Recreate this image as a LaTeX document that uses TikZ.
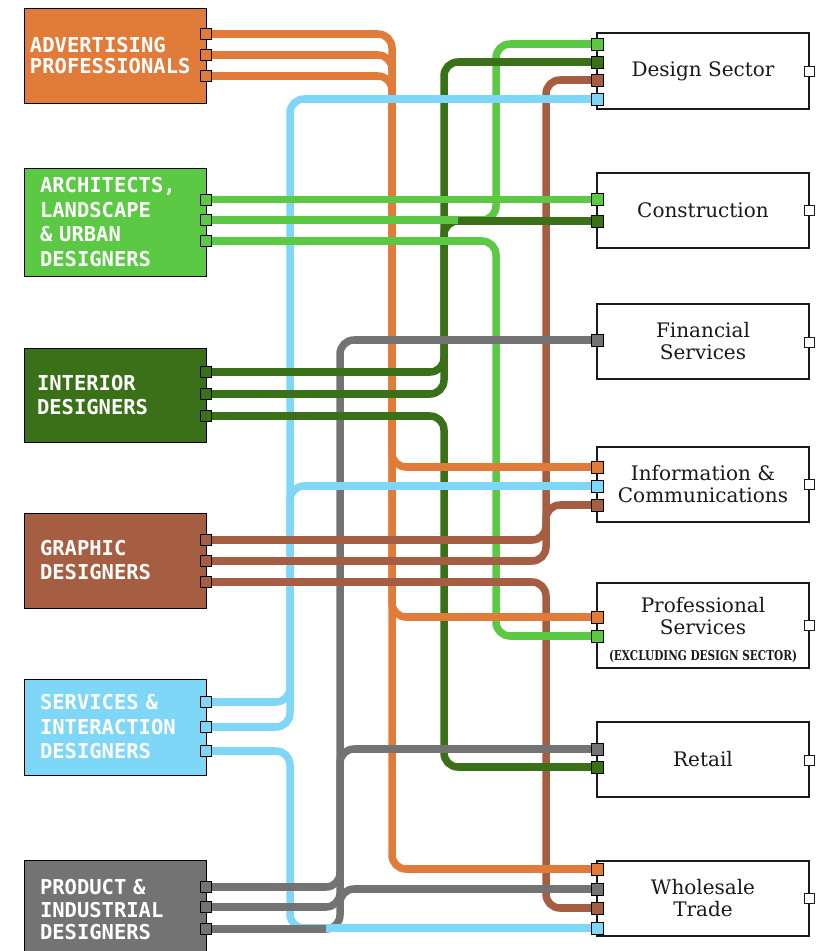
\documentclass[tikz,border=0pt]{standalone}
\usepackage{fontspec}
\setmainfont{DejaVu Serif}
\newfontfamily\monofont{DejaVu Sans Mono}[BoldFont={DejaVu Sans Mono Bold}]
\usetikzlibrary{calc}
\pgfdeclarelayer{wiresbelow}
\pgfdeclarelayer{wiresabove}
\pgfsetlayers{wiresbelow,wiresabove,main}
\definecolor{cor}{HTML}{E07B39}
\definecolor{clg}{HTML}{5BC944}
\definecolor{cdg}{HTML}{3A7017}
\definecolor{cbr}{HTML}{A65E42}
\definecolor{clb}{HTML}{7ED7F7}
\definecolor{cgy}{HTML}{737373}
\definecolor{ink}{HTML}{1A1A1A}
\tikzset{
  wire/.style={line width=7.5pt, rounded corners=14pt},
  srcbox/.style={draw=black, line width=0.9pt, minimum width=182pt, inner ysep=0pt, align=left, text=white},
  dstbox/.style={draw=ink, line width=1.1pt, fill=white, minimum width=212pt, minimum height=75pt, align=center, text=ink, font=\fontsize{20}{22}\selectfont},
  lport/.style={draw=black, line width=0.8pt, minimum size=11pt, inner sep=0pt},
  rport/.style={draw=black, line width=0.8pt, minimum size=12pt, inner sep=0pt},
  oport/.style={draw=ink, line width=0.8pt, fill=white, minimum size=10pt, inner sep=0pt},
}
\newcommand\srcfont[1]{\monofont\bfseries\fontsize{20.5}{#1}\selectfont}
\newcommand\linkvia[4]{%
  \begin{pgfonlayer}{wiresbelow}
    \draw[wire,#1] (#2.center) -| (#3 |- #4.center) -- (#4.center);
  \end{pgfonlayer}
  \begin{pgfonlayer}{wiresabove}
    \draw[wire,#1] (#2.center) -- ($(#3 |- #2.center)+(-14,0)$);
    \draw[wire,#1] ($(#3 |- #4.center)+(14,0)$) -- (#4.center);
  \end{pgfonlayer}}
\begin{document}
\begin{tikzpicture}[x=1pt,y=-1pt]
\useasboundingbox (0,0) rectangle (815,951);
\clip (0,0) rectangle (815,951);
% vertical trunks
\coordinate (vlb) at (290,0);
\coordinate (vgy) at (340,0);
\coordinate (vor) at (392,0);
\coordinate (vdg) at (444,0);
\coordinate (vlg) at (496,0);
\coordinate (vbr) at (546,0);
% source boxes
\node[srcbox, fill=cor, minimum height=95pt, text width=170pt, inner xsep=6pt,
  font=\srcfont{21.5}] (adv) at (115,55.5) {ADVERTISING\\PROFESSIONALS};
\node[srcbox, fill=clg, minimum height=108pt, text width=150pt, inner xsep=16pt,
  font=\srcfont{24.7}] (arc) at (115,222) {ARCHITECTS,\\LANDSCAPE\\\& URBAN\\DESIGNERS};
\node[srcbox, fill=cdg, minimum height=94pt, text width=156pt, inner xsep=13pt,
  font=\srcfont{24}] (int) at (115,395) {INTERIOR\\DESIGNERS};
\node[srcbox, fill=cbr, minimum height=95pt, text width=150pt, inner xsep=16pt,
  font=\srcfont{24}] (gra) at (115,560.5) {GRAPHIC\\DESIGNERS};
\node[srcbox, fill=clb, minimum height=96pt, text width=150pt, inner xsep=16pt,
  font=\srcfont{24.5}] (ser) at (115,727) {SERVICES \&\\INTERACTION\\DESIGNERS};
\node[srcbox, fill=cgy, minimum height=100pt, text width=150pt, inner xsep=16pt,
  font=\srcfont{22.5}] (pro) at (115,910) {PRODUCT \&\\INDUSTRIAL\\DESIGNERS};
% destination boxes
\node[dstbox, minimum height=76pt] (des) at (703,71) {Design Sector};
\node[dstbox] (con) at (703,210.5) {Construction};
\node[dstbox] (fin) at (703,341.5) {Financial\\Services};
\node[dstbox] (inf) at (703,484.5) {Information \&\\Communications};
\node[dstbox, minimum height=85pt] (prs) at (703,625.5) {\rule{0pt}{24pt}Professional\\Services\\[4pt]\resizebox{188pt}{\height}{\bfseries\fontsize{13.5}{14}\selectfont (EXCLUDING DESIGN SECTOR)}};
\node[dstbox] (ret) at (703,759.5) {Retail};
\node[dstbox] (who) at (703,898.5) {Wholesale\\Trade};
% output ports
\node[oport] (desout) at (809,71) {};
\node[oport] (conout) at (809,210) {};
\node[oport] (finout) at (809,342) {};
\node[oport] (infout) at (809,484) {};
\node[oport] (prsout) at (809,625) {};
\node[oport] (retout) at (809,760) {};
\node[oport] (whoout) at (809,898) {};
% left ports
\node[lport, fill=cor] (a1) at (206,34) {};
\node[lport, fill=cor] (a2) at (206,55) {};
\node[lport, fill=cor] (a3) at (206,76) {};
\node[lport, fill=clg] (b1) at (206,199.5) {};
\node[lport, fill=clg] (b2) at (206,220) {};
\node[lport, fill=clg] (b3) at (206,241) {};
\node[lport, fill=cdg] (c1) at (206,372) {};
\node[lport, fill=cdg] (c2) at (206,394) {};
\node[lport, fill=cdg] (c3) at (206,416) {};
\node[lport, fill=cbr] (d1) at (206,540) {};
\node[lport, fill=cbr] (d2) at (206,561) {};
\node[lport, fill=cbr] (d3) at (206,582) {};
\node[lport, fill=clb] (e1) at (206,702) {};
\node[lport, fill=clb] (e2) at (206,727) {};
\node[lport, fill=clb] (e3) at (206,751) {};
\node[lport, fill=cgy] (f1) at (206,887) {};
\node[lport, fill=cgy] (f2) at (206,907) {};
\node[lport, fill=cgy] (f3) at (206,929) {};
% right ports
\node[rport, fill=clg] (ds1) at (597,44) {};
\node[rport, fill=cdg] (ds2) at (597,62) {};
\node[rport, fill=cbr] (ds3) at (597,80) {};
\node[rport, fill=clb] (ds4) at (597,99) {};
\node[rport, fill=clg] (co1) at (597,199.5) {};
\node[rport, fill=cdg] (co2) at (597,221) {};
\node[rport, fill=cgy] (fi1) at (597,340) {};
\node[rport, fill=cor] (ic1) at (597,467) {};
\node[rport, fill=clb] (ic2) at (597,486) {};
\node[rport, fill=cbr] (ic3) at (597,505) {};
\node[rport, fill=cor] (ps1) at (597,617) {};
\node[rport, fill=clg] (ps2) at (597,636) {};
\node[rport, fill=cgy] (re1) at (597,749) {};
\node[rport, fill=cdg] (re2) at (597,767) {};
\node[rport, fill=cor] (wt1) at (597,869) {};
\node[rport, fill=cgy] (wt2) at (597,889) {};
\node[rport, fill=cbr] (wt3) at (597,908) {};
\node[rport, fill=clb] (wt4) at (597,928) {};
% connectors
\linkvia{cor}{a1}{vor}{ic1}
\linkvia{cor}{a2}{vor}{ps1}
\linkvia{cor}{a3}{vor}{wt1}
\begin{pgfonlayer}{wiresabove}
  \draw[wire,clg] (b1.center) -- (co1.center);
\end{pgfonlayer}
\linkvia{clg}{b2}{vlg}{ds1}
\linkvia{clg}{b3}{vlg}{ps2}
\linkvia{cdg}{c1}{vdg}{ds2}
\linkvia{cdg}{c2}{vdg}{co2}
\linkvia{cdg}{c3}{vdg}{re2}
\linkvia{cbr}{d1}{vbr}{ds3}
\linkvia{cbr}{d2}{vbr}{ic3}
\linkvia{cbr}{d3}{vbr}{wt3}
\linkvia{clb}{e1}{vlb}{ds4}
\linkvia{clb}{e2}{vlb}{ic2}
\linkvia{clb}{e3}{vlb}{wt4}
\linkvia{cgy}{f1}{vgy}{fi1}
\linkvia{cgy}{f2}{vgy}{re1}
\linkvia{cgy}{f3}{vgy}{wt2}
\end{tikzpicture}
\end{document}
